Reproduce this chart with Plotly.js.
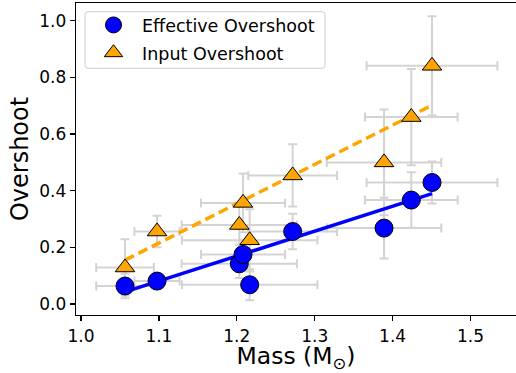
<!DOCTYPE html>
<html>
<head>
<meta charset="utf-8">
<script src="https://cdn.plot.ly/plotly-3.0.1.min.js"></script>
<style>html,body{margin:0;padding:0;background:#fff;}#chart{width:516px;height:373px;}</style>
</head>
<body>
<div id="chart"></div>
<script>
// Data
const mass      = [1.0565, 1.0976, 1.2032, 1.2080, 1.2165, 1.2717, 1.3890, 1.4240, 1.4506];
const massErr   = [0.037, 0.029, 0.074, 0.054, 0.087, 0.057, 0.0735, 0.0595, 0.084];
const effective = [0.0635, 0.081, 0.142, 0.175, 0.068, 0.256, 0.268, 0.367, 0.429];
const effErr    = [0.043, 0.020, 0.050, 0.050, 0.055, 0.063, 0.107, 0.098, 0.074];
const inputOv   = [0.129, 0.256, 0.279, 0.357, 0.225, 0.454, 0.500, 0.660, 0.841];
const inpErr    = [0.100, 0.056, 0.070, 0.104, 0.110, 0.110, 0.187, 0.170, 0.175];
const fitMass   = [1.0565, 1.4506];
const fitEff    = [0.043, 0.390];
const fitInp    = [0.155, 0.702];
const xTicks    = [1.0, 1.1, 1.2, 1.3, 1.4, 1.5];
const yTicks    = [0.0, 0.2, 0.4, 0.6, 0.8, 1.0];

const errColor = '#d3d3d3';
const FONT = 'DejaVu Sans, sans-serif';

function errTrace(y, yerr) {
  return {
    x: mass, y: y, type: 'scatter', mode: 'markers',
    marker: {size: 1, opacity: 0},
    error_x: {type: 'data', array: massErr, visible: true, color: errColor, thickness: 2, width: 4.5},
    error_y: {type: 'data', array: yerr, visible: true, color: errColor, thickness: 2, width: 4.5},
    showlegend: false, hoverinfo: 'skip'
  };
}

const traces = [
  errTrace(effective, effErr),
  errTrace(inputOv, inpErr),
  {x: fitMass, y: fitEff, type: 'scatter', mode: 'lines', line: {color: '#0000ff', width: 3.5}, showlegend: false},
  {x: fitMass, y: fitInp, type: 'scatter', mode: 'lines', line: {color: '#ffa500', width: 3.5, dash: '10px,5px'}, showlegend: false},
  {x: mass, y: effective, type: 'scatter', mode: 'markers', name: 'Effective Overshoot', legendgroup: 'a',
   marker: {symbol: 'circle', size: 18, color: '#0000ff', line: {color: '#000', width: 1}}},
  {x: mass, y: inputOv, type: 'scatter', mode: 'markers', name: 'Input Overshoot', legendgroup: 'b',
   marker: {symbol: 'triangle-up', size: 17, color: '#ffa500', line: {color: '#000', width: 1}}}
];

// legend frame (pixel positions converted to paper coordinates)
const L = 76, T = 3, PW = 440, PH = 312;
const px = v => (v - L) / PW, py = v => (T + PH - v) / PH;
const bx0 = 85, bx1 = 325, by0 = 11.7, by1 = 68.3, rr = 3;
const framePath =
  'M' + px(bx0 + rr) + ',' + py(by0) +
  ' L' + px(bx1 - rr) + ',' + py(by0) + ' Q' + px(bx1) + ',' + py(by0) + ' ' + px(bx1) + ',' + py(by0 + rr) +
  ' L' + px(bx1) + ',' + py(by1 - rr) + ' Q' + px(bx1) + ',' + py(by1) + ' ' + px(bx1 - rr) + ',' + py(by1) +
  ' L' + px(bx0 + rr) + ',' + py(by1) + ' Q' + px(bx0) + ',' + py(by1) + ' ' + px(bx0) + ',' + py(by1 - rr) +
  ' L' + px(bx0) + ',' + py(by0 + rr) + ' Q' + px(bx0) + ',' + py(by0) + ' ' + px(bx0 + rr) + ',' + py(by0) + ' Z';

const layout = {
  width: 516, height: 373,
  margin: {l: L, r: 0, t: T, b: 58},
  paper_bgcolor: '#fff', plot_bgcolor: '#fff',
  font: {family: FONT, color: '#000'},
  xaxis: {
    range: [0.99358, 1.5584], tickvals: xTicks, ticktext: xTicks.map(v => v.toFixed(1)),
    showgrid: false, zeroline: false, showline: true, linecolor: '#000', linewidth: 1.3, mirror: true,
    ticks: 'outside', ticklen: 5, tickwidth: 1.2, tickcolor: '#000',
    tickfont: {family: FONT, size: 17},
    title: {text: 'Mass (M<sub>⊙</sub>)', font: {family: FONT, size: 23.5}, standoff: 5}
  },
  yaxis: {
    range: [-0.0388, 1.0628], tickvals: yTicks, ticktext: yTicks.map(v => v.toFixed(1)),
    showgrid: false, zeroline: false, showline: true, linecolor: '#000', linewidth: 1.3, mirror: false,
    ticks: 'outside', ticklen: 5, tickwidth: 1.2, tickcolor: '#000',
    tickfont: {family: FONT, size: 17},
    title: {text: 'Overshoot', font: {family: FONT, size: 24}, standoff: 4}
  },
  shapes: [{type: 'path', xref: 'paper', yref: 'paper', path: framePath,
            line: {color: '#cccccc', width: 1}, fillcolor: 'rgba(255,255,255,0.85)', layer: 'above'}],
  legend: {
    x: 0.0205, y: 0.987, xanchor: 'left', yanchor: 'top',
    bgcolor: 'rgba(0,0,0,0)', borderwidth: 0,
    traceorder: 'grouped', tracegroupgap: 2,
    font: {family: FONT, size: 17.5}, itemwidth: 47
  },
  showlegend: true
};

Plotly.newPlot('chart', traces, layout, {staticPlot: true, displayModeBar: false});
</script>
</body>
</html>
